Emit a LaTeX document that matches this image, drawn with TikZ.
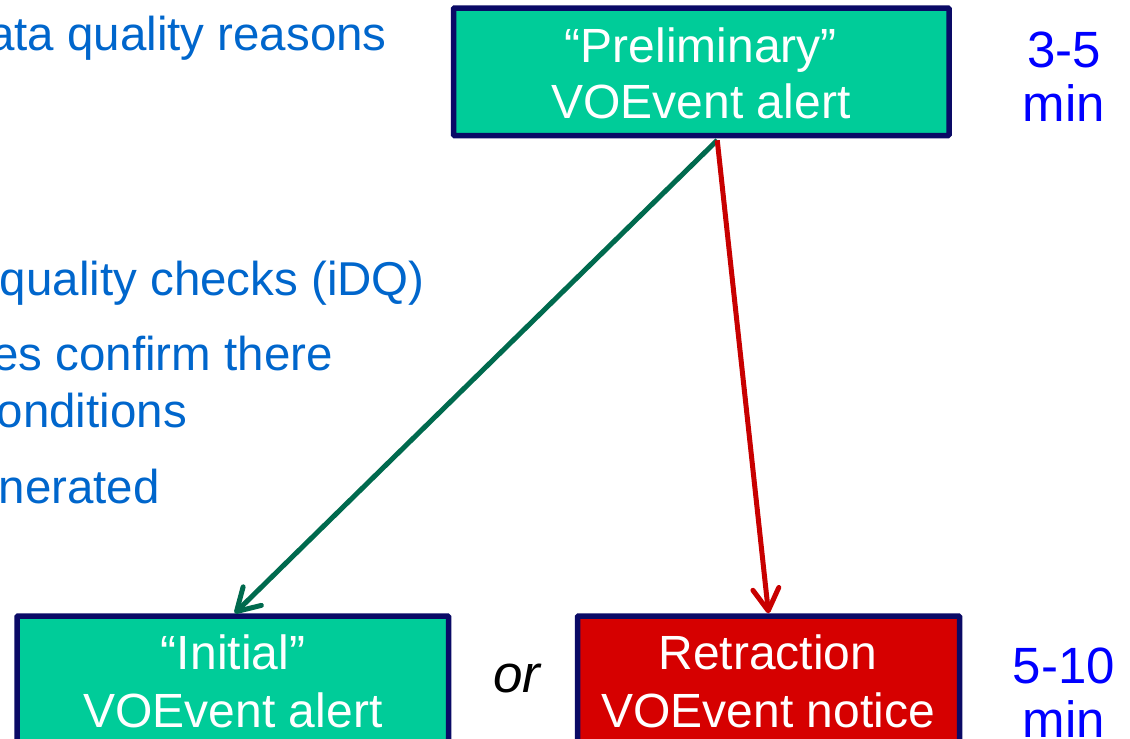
\documentclass[tikz,border=0pt]{standalone}
\usepackage{fontspec}
\setmainfont{Liberation Sans}
\usetikzlibrary{arrows.meta}
\definecolor{boxgreen}{HTML}{00CC99}
\definecolor{boxred}{HTML}{D60000}
\definecolor{navy}{HTML}{0A0A66}
\definecolor{arrgreen}{HTML}{006A4E}
\definecolor{arrred}{HTML}{C80000}
\definecolor{txtblue}{HTML}{0066CC}
\definecolor{timeblue}{HTML}{0000FF}
\tikzset{
  box/.style={draw=navy, line width=5.5pt, rectangle, inner sep=0pt, rounded corners=1pt},
  boxtext/.style={text=white, inner sep=0pt, anchor=base, font=\fontsize{48}{56}\selectfont},
  lefttext/.style={text=txtblue, inner sep=0pt, anchor=base east, font=\fontsize{47.5}{56}\selectfont},
  timetext/.style={text=timeblue, inner sep=0pt, anchor=base, font=\fontsize{51}{60}\selectfont},
  flow/.style={line width=5pt, -{Straight Barb[length=22pt,width=26pt,round]}}
}
\begin{document}
\begin{tikzpicture}[x=1pt,y=-1pt]
\useasboundingbox (0,0) rectangle (1130,739);
% left text
\node[lefttext] (l1) at (387,50) {ata quality reasons};
\node[lefttext] (l2) at (425,295) {quality checks (iDQ)};
\node[lefttext] (l3) at (333,370) {es confirm there};
\node[lefttext] (l4) at (187,427) {onditions};
\node[lefttext] (l5) at (160,503) {nerated};
% boxes
\node[box, fill=boxgreen, minimum width=495.5pt, minimum height=127.5pt] (pre) at (701.25,71.75) {};
\node[box, fill=boxgreen, minimum width=431.5pt, minimum height=160pt] (init) at (232.75,696) {};
\node[box, fill=boxred, minimum width=382pt, minimum height=160pt] (ret) at (768.5,696) {};
% box texts
\node[boxtext] (pre1) at (701,62) {“Preliminary”};
\node[boxtext] (pre2) at (701,118) {VOEvent alert};
\node[boxtext] (init1) at (233,669) {“Initial”};
\node[boxtext] (init2) at (233,727) {VOEvent alert};
\node[boxtext] (ret1) at (768,669) {Retraction};
\node[boxtext] (ret2) at (768,727) {VOEvent notice};
% or
\node[inner sep=0pt, anchor=base, font=\fontsize{53}{60}\selectfont\itshape] (or) at (517,692) {or};
% times
\node[timetext] (t1) at (1064,67) {3-5};
\node[timetext] (t2) at (1064,121) {min};
\node[timetext] (t3) at (1064,683) {5-10};
\node[timetext] (t4) at (1064,737) {min};
% arrows
\coordinate (start) at ([xshift=16pt,yshift=-2pt]pre.south);
\draw[flow, arrgreen] (start) -- ([xshift=2pt]init.north);
\draw[flow, arrred] (start) -- (ret.north);
\end{tikzpicture}
\end{document}
